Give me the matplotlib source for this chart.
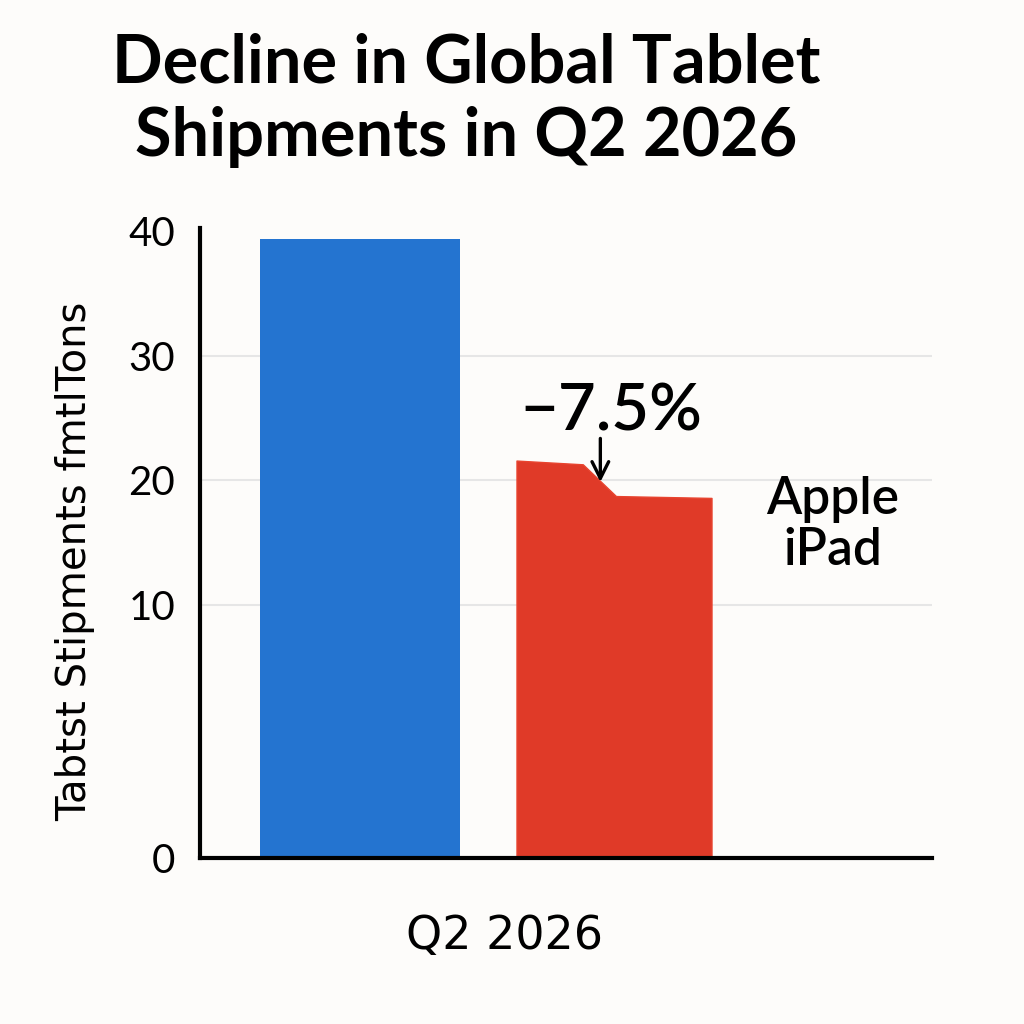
import numpy as np
import matplotlib
matplotlib.use("Agg")
import matplotlib.pyplot as plt

# ---- data ----
title = "Decline in Global Tablet\nShipments in Q2 2026"
ylabel = "Tabtst Stipments fmtlTons"
category = "Q2 2026"
total_shipments = 39.4          # blue bar (millions)
ipad_profile = [21.6, 21.3, 18.75, 18.6]   # red bar top, left to right
ipad_profile_frac = [0.0, 0.34, 0.51, 1.0]  # where along the bar each top value sits
change_label = "\u22127.5%"
series_label = "Apple\niPad"
yticks = [0, 10, 20, 30, 40]

BLUE = "#2474d0"
RED = "#e03a28"
BG = "#fdfcfa"

# piecewise y scale (0-10 stretched as in reference)
def fwd(y):
    y = np.asarray(y, dtype=float)
    return np.where(y <= 10, y * 25.3, 253 + (y - 10) * 12.45)

def inv(p):
    p = np.asarray(p, dtype=float)
    return np.where(p <= 253, p / 25.3, 10 + (p - 253) / 12.45)

fig = plt.figure(figsize=(10.24, 10.24), dpi=100, facecolor=BG)
ax = fig.add_axes([200/1024, 1 - 858/1024, 732/1024, 630/1024])
ax.set_facecolor(BG)
ax.set_yscale("function", functions=(fwd, inv))
ax.set_ylim(0, 40.28)

spacing = 254.0
w_blue = 200 / spacing
w_red = 195 / spacing
x_blue = 0.0
x_red = 1.0
ax.set_xlim(-160 / spacing, 1 + 318 / spacing)

for yv in yticks[1:-1]:
    ax.axhline(yv, color="#e6e6e6", lw=1.5, zorder=0)

ax.bar([x_blue], [total_shipments], width=w_blue, color=BLUE, zorder=2)

xs = x_red - w_red / 2 + np.array(ipad_profile_frac) * w_red
ax.fill_between(xs, ipad_profile, 0, color=RED, edgecolor="#e8442f", lw=1, zorder=2)

# arrow + change label
arrow_frac = 0.43
ax_x = x_red - w_red / 2 + arrow_frac * w_red
ax_y = float(np.interp(arrow_frac, ipad_profile_frac, ipad_profile))
ax.annotate("", xy=(ax_x, ax_y - 0.3), xytext=(ax_x, 23.6),
            arrowprops=dict(arrowstyle="->", color="black", lw=2.4, mutation_scale=30),
            zorder=5)
ax.text(x_red - 0.01, 24.0, change_label, ha="center", va="baseline",
        fontsize=47, family="Lato", weight="semibold", color="black", zorder=5)

ax.text(x_red + 0.86, 16.4, series_label, ha="center", va="center",
        fontsize=37, family="Lato", weight="semibold", color="black", linespacing=1.1)

ax.set_yticks(yticks)
ax.set_yticklabels([str(t) for t in yticks], fontsize=29, family="Lato")
ax.tick_params(axis="y", length=0, pad=18)
ax.set_xticks([(505 - 360) / spacing])
ax.set_xticklabels([category], fontsize=33, family="Liberation Sans Narrow")
ax.tick_params(axis="x", length=0, pad=40)

for s in ["top", "right"]:
    ax.spines[s].set_visible(False)
for s in ["left", "bottom"]:
    ax.spines[s].set_linewidth(3)
    ax.spines[s].set_color("black")

fig.text(75/1024, 1 - 561/1024, ylabel, rotation=90, ha="center", va="center",
         fontsize=29, family="DejaVu Sans", color="black")
fig.text(466/1024, 1 - 100/1024, title, ha="center", va="center",
         fontsize=48, family="Lato", weight="bold", linespacing=1.22)

fig.savefig("out.png", dpi=100, facecolor=BG)
